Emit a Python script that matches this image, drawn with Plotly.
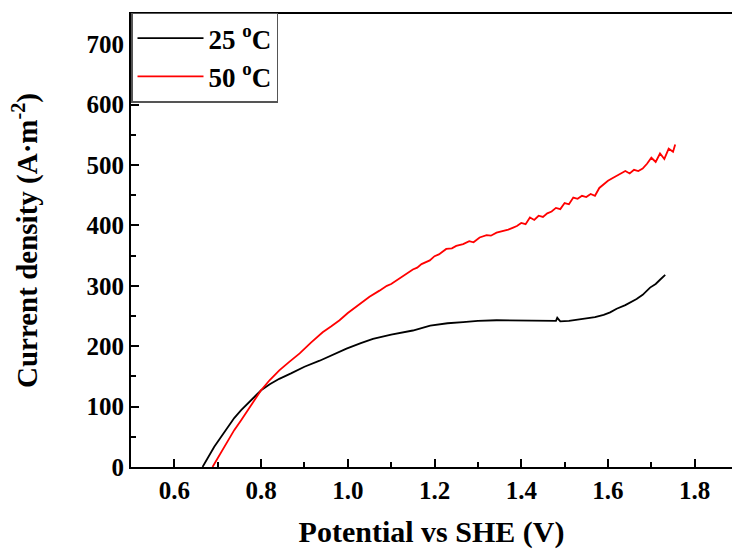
import plotly.graph_objects as go

x25 = [0.665, 0.68, 0.692, 0.708, 0.723, 0.738, 0.754, 0.77, 0.785, 0.80, 0.82, 0.842, 0.869, 0.90,
       0.935, 0.965, 0.997, 1.03, 1.058, 1.10, 1.15, 1.19, 1.23, 1.266, 1.30, 1.343, 1.38, 1.42,
       1.45, 1.48, 1.483, 1.49, 1.51, 1.528, 1.55, 1.57, 1.59, 1.605, 1.62, 1.64, 1.666, 1.68,
       1.697, 1.71, 1.72, 1.732]
y25 = [0, 18, 33.5, 50, 66.5, 81, 94, 106, 116, 127, 137, 146, 155, 166,
       176, 186, 196, 205, 212, 219, 226, 234, 238, 240, 242, 243, 243, 243,
       243, 242, 247, 241, 242, 244, 246, 248, 252, 256, 262, 268, 278, 285,
       297, 303, 310, 318]

x50 = [0.688, 0.70, 0.712, 0.723, 0.738, 0.754, 0.77, 0.785, 0.80, 0.82, 0.842, 0.865, 0.889, 0.915,
       0.942, 0.962, 0.981, 1.0, 1.035, 1.05, 1.073, 1.09, 1.10, 1.112, 1.13, 1.15, 1.16, 1.17,
       1.189, 1.20, 1.21, 1.227, 1.24, 1.25, 1.266, 1.28, 1.29, 1.304, 1.32, 1.33, 1.343, 1.36,
       1.37, 1.38, 1.39, 1.40, 1.41, 1.42, 1.43, 1.44, 1.45, 1.46, 1.47, 1.48, 1.49, 1.50,
       1.51, 1.52, 1.53, 1.54, 1.55, 1.56, 1.57, 1.58, 1.59, 1.60, 1.61, 1.62, 1.63, 1.64,
       1.65, 1.66, 1.67, 1.68, 1.69, 1.70, 1.71, 1.72, 1.73, 1.74, 1.75, 1.755]
y50 = [0, 15, 30, 44, 61, 77.5, 94, 110, 127, 144, 160, 174, 188, 206,
       223, 233, 243, 255, 275, 282, 292, 300, 303, 309, 318, 327, 330, 336,
       342, 349, 352, 361, 362, 366, 369, 374, 372, 380, 384, 383, 388, 391,
       393, 396, 399, 404, 402, 413, 409, 416, 414, 420, 423, 429, 427, 437,
       435, 446, 444, 449, 447, 452, 449, 462, 468, 474, 478, 482, 487, 490,
       486, 492, 490, 494, 502, 512, 505, 519, 510, 527, 522, 534]

names = ["25 <sup>o</sup>C", "50 <sup>o</sup>C"]
colors = ["black", "red"]

FONT = "Liberation Serif"

fig = go.Figure()
fig.add_trace(go.Scatter(x=x25, y=y25, mode="lines", name=names[0],
                         line=dict(color=colors[0], width=1.8)))
fig.add_trace(go.Scatter(x=x50, y=y50, mode="lines", name=names[1],
                         line=dict(color=colors[1], width=1.8)))

axis_common = dict(showline=True, linecolor="black", linewidth=2,
                   ticks="inside", ticklen=8, tickwidth=1.5, tickcolor="black",
                   showgrid=False, zeroline=False,
                   tickfont=dict(family=FONT, size=25, color="black", weight="bold"))

fig.update_xaxes(range=[0.5, 1.886], dtick=0.2, tick0=0.6, tickformat=".1f", mirror=True,
                 minor=dict(ticks="inside", ticklen=5, tickwidth=1.5, tickcolor="black", dtick=0.1),
                 title=dict(text="<b>Potential vs SHE (V)</b>",
                            font=dict(family=FONT, size=30, color="black"), standoff=21),
                 **axis_common)
fig.update_yaxes(range=[0, 750], dtick=100, mirror=False,
                 minor=dict(ticks="inside", ticklen=5, tickwidth=1.5, tickcolor="black", dtick=50),
                 title=dict(text="<b>Current density (A·m<sup>-2</sup>)</b>",
                            font=dict(family=FONT, size=29, color="black"), standoff=40),
                 **axis_common)

fig.update_layout(
    width=732, height=549,
    margin=dict(l=131, r=0, t=14, b=82),
    plot_bgcolor="white", paper_bgcolor="white",
    showlegend=True,
    legend=dict(x=0, y=1.003, xanchor="left", yanchor="top",
                bgcolor="white", bordercolor="#555", borderwidth=1.5,
                font=dict(family=FONT, size=27, color="black", weight="bold"),
                itemwidth=66, tracegroupgap=0),
)

fig.write_html("out.html", config={"displayModeBar": False},
               post_script="document.body.style.margin='0';document.body.style.overflow='hidden';")
